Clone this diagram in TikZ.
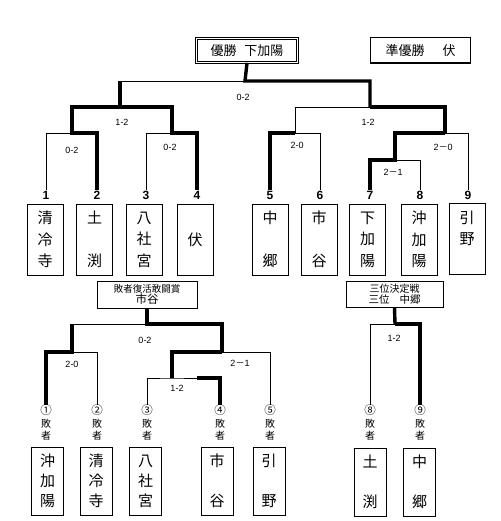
\documentclass[tikz,border=0pt]{standalone}
\usepackage{fontspec}
\setmainfont{Liberation Sans}
\newfontfamily\jp{Noto Sans CJK JP}
\newcommand\circnum[1]{{\fontsize{11.5}{12}\selectfont #1}}
\tikzset{
  thinln/.style={black, line width=0.8pt},
  thickln/.style={black, line width=3.4pt},
  team/.style={draw, line width=0.8pt, minimum width=36pt, minimum height=71pt, inner sep=0pt, align=center, font=\jp\fontsize{15}{21.5}\selectfont},
  loser/.style={team, minimum width=32pt, minimum height=68pt, font=\jp\fontsize{15}{20}\selectfont},
  seed/.style={font=\bfseries\fontsize{12}{12}\selectfont, inner sep=0.5pt},
  lost/.style={align=center, inner sep=0.5pt, font=\jp\fontsize{10}{12.5}\selectfont},
  score/.style={font=\fontsize{9}{9}\selectfont},
  titlebox/.style={draw, line width=0.8pt, align=center, inner sep=0pt, font=\jp\fontsize{10}{11.5}\selectfont}
}
\begin{document}
\begin{tikzpicture}[x=1pt, y=-1pt]
    \useasboundingbox (0,0) rectangle (500,521);

    \node[draw, double, double distance=1.4pt, line width=0.6pt, minimum width=101pt, minimum height=24pt, font=\jp\fontsize{13}{13}\selectfont] (champ) at (247,50.5) {優勝\hspace{8pt}下加陽};
    \node[draw, line width=1.5pt, minimum width=100pt, minimum height=25.5pt, font=\jp\fontsize{13}{13}\selectfont] (runner) at (420.5,50.5) {準優勝\hspace{18pt}伏};

    \node[seed] (n1) at (46,195) {1};
    \node[seed] (n2) at (97,195) {2};
    \node[seed] (n3) at (146,195) {3};
    \node[seed] (n4) at (197,195) {4};
    \node[seed] (n5) at (270,195) {5};
    \node[seed] (n6) at (320,195) {6};
    \node[seed] (n7) at (370,195) {7};
    \node[seed] (n8) at (420,195) {8};
    \node[seed] (n9) at (468,195) {9};

    \node[team] (t1) at (45,239.5) {清\\冷\\寺};
    \node[team] (t2) at (94.5,239.5) {土\\\mbox{}\\渕};
    \node[team] (t3) at (144,239.5) {八\\社\\宮};
    \node[team] (t4) at (195,239.5) {伏};
    \node[team] (t5) at (270,239.5) {中\\\mbox{}\\郷};
    \node[team] (t6) at (319,239.5) {市\\\mbox{}\\谷};
    \node[team] (t7) at (367.5,239.5) {下\\加\\陽};
    \node[team] (t8) at (419,239.5) {沖\\加\\陽};
    \node[team] (t9) at (467,238.5) {引\\野\\\mbox{}};

    \coordinate (fin) at (245,81);
    \coordinate (sL) at (120,107);
    \coordinate (sR) at (370,107);
    \coordinate (m12) at (72,133);
    \coordinate (m34) at (172,133);
    \coordinate (m56) at (295,133);
    \coordinate (m789) at (445,133);
    \coordinate (m78) at (395,160);

    \draw[thinln] (n1.north) |- (m12);
    \draw[thickln] (n2.north) |- (m12) -- (m12 |- sL) -- (sL);
    \draw[thinln] (n3.north) |- (m34);
    \draw[thickln] (n4.north) |- (m34) -- (m34 |- sL) -- (sL) -- (sL |- fin);
    \draw[thinln] (sL |- fin) -- (fin);
    \draw[thickln] (champ.south) -- (fin) -- (sR |- fin) -- (sR);
    \draw[thickln] (n5.north) |- (m56);
    \draw[thinln] (n6.north) |- (m56) -- (m56 |- sR) -- (sR);
    \draw[thickln] (n7.north) |- (m78) -- (m78 |- m789) -- (m789);
    \draw[thinln] (n8.north) |- (m78);
    \draw[thinln] (n9.north) |- (m789);
    \draw[thickln] (m789) -- (m789 |- sR) -- (sR);

    \node[score] (s1) at (243,97) {0-2};
    \node[score] (s2) at (122,122) {1-2};
    \node[score] (s3) at (72,150) {0-2};
    \node[score] (s4) at (170,147) {0-2};
    \node[score] (s5) at (368,122) {1-2};
    \node[score] (s6) at (297,145) {2-0};
    \node[score] (s7) at (443,147) {2{\jp －}0};
    \node[score] (s8) at (393,172) {2{\jp －}1};

    \node[titlebox, minimum width=100pt, minimum height=27pt] (cons) at (147,294.5) {{\fontsize{9.5}{11.5}\selectfont 敗者復活敢闘賞}\\{\fontsize{11.5}{11.5}\selectfont 市谷}};
    \node[titlebox, minimum width=97pt, minimum height=26pt] (third) at (394.5,294) {三位決定戦\\{\fontsize{10.5}{11}\selectfont 三位\hspace{10pt}中郷}};

    \node[lost] (c1) at (46,423) {\circnum{①}\\敗\\者};
    \node[lost] (c2) at (97,423) {\circnum{②}\\敗\\者};
    \node[lost] (c3) at (147,423) {\circnum{③}\\敗\\者};
    \node[lost] (c4) at (220,423) {\circnum{④}\\敗\\者};
    \node[lost] (c5) at (270,423) {\circnum{⑤}\\敗\\者};
    \node[lost] (c8) at (370,423) {\circnum{⑧}\\敗\\者};
    \node[lost] (c9) at (420,423) {\circnum{⑨}\\敗\\者};

    \node[loser] (b1) at (47.5,481) {沖\\加\\陽};
    \node[loser] (b2) at (96,481) {清\\冷\\寺};
    \node[loser] (b3) at (145.5,481) {八\\社\\宮};
    \node[loser] (b4) at (217,481) {市\\\mbox{}\\谷};
    \node[loser] (b5) at (269,481) {引\\\mbox{}\\野};
    \node[loser] (b8) at (370,482) {土\\\mbox{}\\渕};
    \node[loser] (b9) at (419.5,482) {中\\\mbox{}\\郷};

    \coordinate (r0) at (147,324);
    \coordinate (r12) at (72,352);
    \coordinate (r345) at (222,352);
    \coordinate (r34) at (172,378);
    \coordinate (r34b) at (197,378);
    \coordinate (r89) at (395,324);

    \draw[thickln] (c1.north) |- (r12) -- (r12 |- r0);
    \draw[thinln] (c2.north) |- (r12);
    \draw[thinln] (r12 |- r0) -- (r0);
    \draw[thickln] (cons.south) -- (r0) -- (r345 |- r0) -- (r345);
    \draw[thinln] (c3.north) |- (r34) -- (r34b);
    \draw[thickln] (c4.north) |- (r34b);
    \draw[thickln] (r34) -- (r34 |- r345) -- (r345);
    \draw[thinln] (c5.north) |- (r345);
    \draw[thickln] (third.south) -- (r89);
    \draw[thinln] (c8.north) |- (r89);
    \draw[thickln] (c9.north) |- (r89);

    \node[score] (s9) at (145,340) {0-2};
    \node[score] (s10) at (72,364) {2-0};
    \node[score] (s11) at (240,363) {2{\jp －}1};
    \node[score] (s12) at (177,388) {1-2};
    \node[score] (s13) at (394,338) {1-2};
\end{tikzpicture}
\end{document}
